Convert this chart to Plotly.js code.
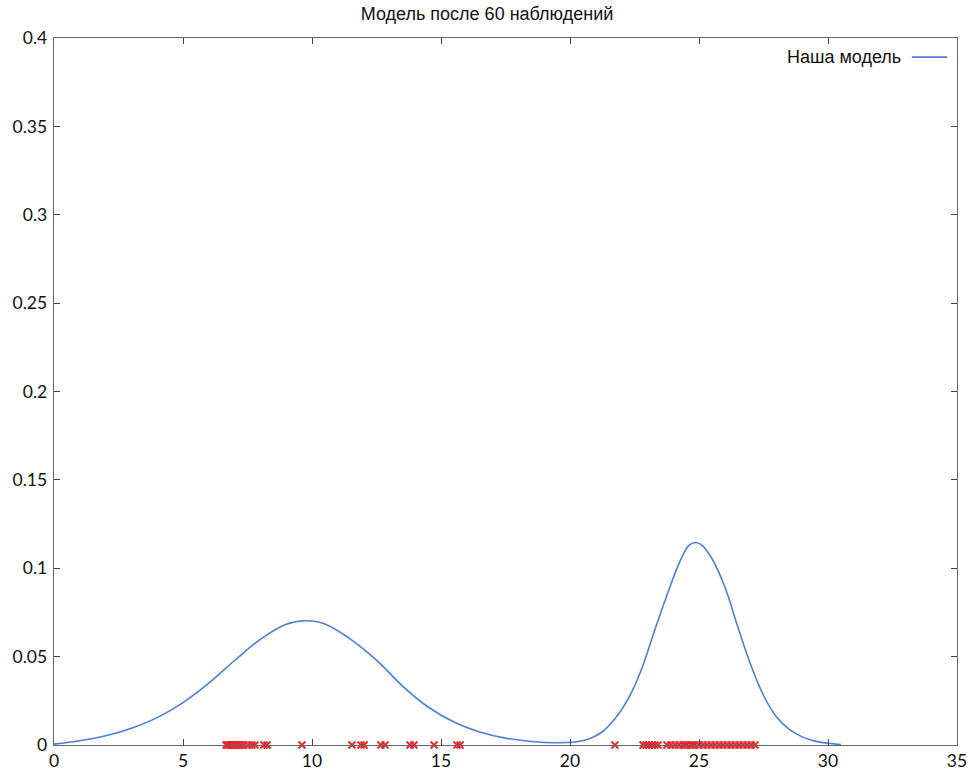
<!DOCTYPE html>
<html>
<head>
<meta charset="utf-8">
<script src="https://cdn.plot.ly/plotly-3.0.1.min.js"></script>
<style>html,body{margin:0;padding:0;background:#fff;}#chart{width:974px;height:773px;}</style>
</head>
<body>
<div id="chart"></div>
<script>
// Model curve
const curveX = [0, 1, 2, 3, 4, 5, 6, 7, 8, 9, 9.75, 10.5, 11.5, 12.5, 13.5, 14.5, 15.5, 16.5, 17.5, 18.5, 19.5, 20.25, 20.75, 21.25, 21.75, 22.25, 22.75, 23.25, 23.75, 24.25, 24.6, 24.85, 25.1, 25.5, 26.0, 26.5, 27.0, 27.5, 28.0, 28.5, 29.0, 29.5, 30.0, 30.5];
const curveY = [0.0005, 0.0024, 0.0052, 0.0095, 0.0155, 0.0240, 0.0350, 0.0478, 0.0598, 0.0683, 0.0703, 0.0685, 0.0598, 0.0480, 0.0335, 0.0215, 0.0130, 0.0074, 0.0039, 0.0020, 0.0013, 0.0018, 0.0035, 0.0075, 0.0150, 0.0260, 0.0420, 0.0635, 0.0845, 0.1035, 0.1128, 0.1146, 0.1132, 0.1055, 0.0895, 0.0670, 0.0455, 0.0280, 0.0160, 0.0088, 0.0046, 0.0022, 0.0010, 0.0003];

// 60 observations (on the x axis)
const obsX = [6.67, 6.72, 6.78, 6.84, 6.90, 6.96, 7.02, 7.08, 7.13, 7.19, 7.25, 7.36, 7.52, 7.67, 7.79, 8.14, 8.26, 9.61,
  11.55, 11.90, 12.02, 12.67, 12.83, 13.80, 13.95, 14.73, 15.62, 15.74,
  21.74, 22.83, 22.95, 23.06, 23.18, 23.29, 23.41,
  23.76, 23.91, 24.07, 24.22, 24.38, 24.45, 24.53, 24.69, 24.76, 24.84, 25.0,
  25.16, 25.31, 25.47, 25.62, 25.78, 25.93, 26.09, 26.24, 26.40, 26.55, 26.71, 26.86, 27.02, 27.17];
const obsY = obsX.map(() => 0);

const titleText = 'Модель после 60 наблюдений';
const seriesName = 'Наша модель';
const xTicks = [0, 5, 10, 15, 20, 25, 30, 35];
const yTicks = [0, 0.05, 0.1, 0.15, 0.2, 0.25, 0.3, 0.35, 0.4];
const yTickText = ['0', '0.05', '0.1', '0.15', '0.2', '0.25', '0.3', '0.35', '0.4'];

const lineColor = '#4a7fd4';
const narrowFont = '"Liberation Sans Narrow", "Liberation Sans", Arial, sans-serif';
const tickFont = {family: 'Lato, "DejaVu Sans", sans-serif', size: 17.5, color: '#111'};

const traces = [
  {x: curveX, y: curveY, type: 'scatter', mode: 'lines', name: seriesName,
   line: {color: lineColor, width: 1.6, shape: 'spline', smoothing: 1.0}, showlegend: false},
  {x: obsX, y: obsY, type: 'scatter', mode: 'markers', name: 'obs',
   marker: {symbol: 'x-thin-open', size: 7, color: '#e8262a', line: {color: '#e8262a', width: 1.8}},
   showlegend: false, cliponaxis: false}
];

const axisCommon = {
  showgrid: false, zeroline: false, showline: true, linecolor: '#666', linewidth: 1.3,
  mirror: 'ticks', ticks: 'inside', ticklen: 6, tickcolor: '#444', tickwidth: 1,
  tickfont: tickFont
};

const layout = {
  width: 974, height: 773,
  margin: {l: 54, r: 17, t: 38, b: 28},
  paper_bgcolor: '#fff', plot_bgcolor: '#fff',
  title: {text: titleText, x: 0.5, xref: 'container', y: 0.99, yanchor: 'top', yref: 'container',
          font: {family: narrowFont, size: 18, color: '#111'}},
  xaxis: Object.assign({}, axisCommon, {range: [0, 35], tickvals: xTicks, ticktext: xTicks.map(String), ticklabelstandoff: 0}),
  yaxis: Object.assign({}, axisCommon, {range: [0, 0.4], tickvals: yTicks, ticktext: yTickText, ticklabelstandoff: 2}),
  showlegend: false,
  annotations: [{text: seriesName, xref: 'paper', yref: 'paper', x: 0.940, y: 0.973, xanchor: 'right', yanchor: 'middle',
    showarrow: false, font: {family: narrowFont, size: 18, color: '#111'}}],
  shapes: [{type: 'line', xref: 'paper', yref: 'paper', x0: 0.950, x1: 0.989, y0: 0.973, y1: 0.973,
    line: {color: lineColor, width: 1.6}}]
};

Plotly.newPlot('chart', traces, layout, {displayModeBar: false, staticPlot: true});
</script>
</body>
</html>
